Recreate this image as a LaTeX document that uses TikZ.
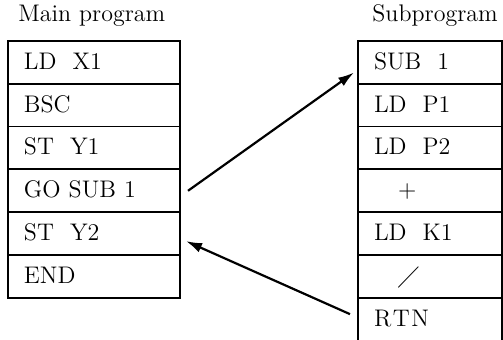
\documentclass[tikz,border=0pt]{standalone}
\usepackage{amsmath}
\usepackage{amssymb}
\usepackage{tikz}
\usetikzlibrary{positioning, arrows.meta}

\begin{document}
\begin{tikzpicture}[
mainrow/.style={rectangle,
  draw=black,
  line width=0.9pt,
  outer sep=0pt,
  minimum width=86pt,
  minimum height=21.4pt,
  text width=70pt,
  inner xsep=8pt,
  text height=8pt,
  text depth=1pt,
  align=left,
},
subrow/.style={mainrow,
  minimum width=72pt,
  text width=56pt,
},
mytitle/.style={inner sep=0pt},
>={Latex[length=8pt,width=5pt]},
font=\fontsize{12}{14}\selectfont
]
\useasboundingbox (0,0) rectangle (251.5pt,-170pt);

\node[mainrow, anchor=north west] (ldx) at (4pt,-20.5pt)
    {LD\ \ X1};
\node[mainrow, below=0pt of ldx] (bsc)
    {BSC};
\node[mainrow, below=0pt of bsc] (sty1)
    {ST\ \ Y1};
\node[mainrow, below=0pt of sty1] (gosub)
    {GO SUB 1};
\node[mainrow, below=0pt of gosub] (sty2)
    {ST\ \ Y2};
\node[mainrow, below=0pt of sty2] (end)
    {END};
\node[mytitle, above right=7pt and 5pt of ldx.north west] (maintitle)
    {Main program};

\node[subrow, anchor=north west] (sub1) at (179pt,-20.5pt)
    {SUB\ \ 1};
\node[subrow, below=0pt of sub1] (ldp1)
    {LD\ \ P1};
\node[subrow, below=0pt of ldp1] (ldp2)
    {LD\ \ P2};
\node[subrow, below=0pt of ldp2] (plus)
    {\hspace*{12pt}$+$};
\node[subrow, below=0pt of plus] (ldk1)
    {LD\ \ K1};
\node[subrow, below=0pt of ldk1] (slash)
    {\hspace*{12pt}$\diagup$};
\node[subrow, below=0pt of slash] (rtn)
    {R\kern0.8pt T\kern0.8pt N};
\node[mytitle, above right=7pt and 7pt of sub1.north west] (subtitle)
    {Subprogram};

\draw[->,line width=1.1pt,black] ([xshift=4pt]gosub.east) -- ([xshift=-2pt]sub1.188);
\draw[->,line width=1.1pt,black] ([xshift=-4pt]rtn.176) -- ([xshift=3pt]sty2.-5);
\end{tikzpicture}
\end{document}
